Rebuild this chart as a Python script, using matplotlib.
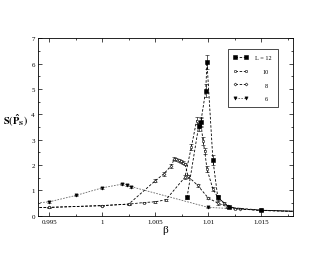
import matplotlib
matplotlib.use("Agg")
import matplotlib.pyplot as plt
from matplotlib.lines import Line2D
from matplotlib.ticker import MultipleLocator

plt.rcParams["font.family"] = ["Liberation Serif", "DejaVu Serif"]
plt.rcParams["mathtext.fontset"] = "stix"

# L = 12
beta_12 = [1.008, 1.0091, 1.0093, 1.00976, 1.00988, 1.01044, 1.0109, 1.012, 1.015, 1.02]
s_12 = [0.72, 3.55, 3.7, 4.93, 6.05, 2.2, 0.72, 0.33, 0.22, 0.15]
err_12 = [0.05, 0.2, 0.2, 0.25, 0.28, 0.2, 0.08, 0.03, 0.02, 0.02]

# L = 10
beta_10 = [0.9925, 0.995, 1.0, 1.0025, 1.0039, 1.005, 1.006, 1.0078, 1.0084, 1.0089,
           1.0091, 1.0093, 1.0095, 1.00966, 1.00988, 1.01044, 1.0109, 1.0115, 1.0125,
           1.015, 1.02]
s_10 = [0.32, 0.33, 0.4, 0.46, 0.52, 0.55, 0.63, 1.52, 2.7, 3.75,
        3.6, 3.7, 2.96, 2.57, 1.84, 1.05, 0.73, 0.5, 0.28,
        0.21, 0.15]
err_10 = [0.01, 0.01, 0.02, 0.02, 0.02, 0.03, 0.03, 0.08, 0.12, 0.15,
          0.15, 0.15, 0.15, 0.12, 0.12, 0.08, 0.05, 0.03, 0.02,
          0.01, 0.01]

# L = 8
beta_8 = [0.9925, 0.995, 1.0, 1.0025, 1.005, 1.0058, 1.0065, 1.0068, 1.007, 1.0072,
          1.0074, 1.0076, 1.0078, 1.0081, 1.009, 1.01, 1.0109, 1.0118, 1.013, 1.015, 1.02]
s_8 = [0.32, 0.33, 0.4, 0.46, 1.38, 1.65, 1.97, 2.24, 2.22, 2.18,
       2.14, 2.1, 2.05, 1.55, 1.2, 0.7, 0.5, 0.35, 0.27, 0.21, 0.15]
err_8 = [0.01, 0.01, 0.02, 0.02, 0.06, 0.07, 0.08, 0.06, 0.05, 0.05,
         0.05, 0.05, 0.05, 0.07, 0.06, 0.04, 0.08, 0.06, 0.02, 0.01, 0.01]

# L = 6
beta_6 = [0.9925, 0.995, 0.9975, 1.0, 1.0019, 1.0023, 1.0027, 1.01, 1.015, 1.02]
s_6 = [0.45, 0.55, 0.8, 1.1, 1.25, 1.22, 1.15, 0.33, 0.22, 0.15]
err_6 = [0.02, 0.03, 0.03, 0.03, 0.04, 0.04, 0.04, 0.02, 0.01, 0.01]

labels = ["L = 12", "10", "8", "6"]

styles = {
    "6": dict(color="#666666", ls=(0, (2, 1.5)), marker="v", ms=2.3, mfc="black", mec="black", mew=0.4),
    "8": dict(color="black", ls=(0, (3, 2)), marker="D", ms=1.5, mfc="white", mec="black", mew=0.4),
    "10": dict(color="black", ls=(0, (3, 2)), marker="o", ms=1.7, mfc="white", mec="black", mew=0.4),
    "L = 12": dict(color="black", ls=(0, (3, 2)), marker="s", ms=2.4, mfc="black", mec="black", mew=0.4),
}

fig = plt.figure(figsize=(3.3, 2.55), dpi=100)
ax = fig.add_axes([0.114, 0.150, 0.774, 0.696])

series = [(beta_6, s_6, err_6, "6"), (beta_8, s_8, err_8, "8"),
          (beta_10, s_10, err_10, "10"), (beta_12, s_12, err_12, "L = 12")]
for b, s, e, lab in series:
    ax.errorbar(b, s, yerr=e, lw=0.6, ecolor="black", elinewidth=0.45,
                capsize=1.3, capthick=0.45, **styles[lab])

ax.set_xlim(0.9939, 1.018)
ax.set_ylim(0, 7)
ax.set_xticks([0.995, 1.0, 1.005, 1.01, 1.015])
ax.set_xticklabels(["0.995", "1", "1.005", "1.01", "1.015"])
ax.xaxis.set_minor_locator(MultipleLocator(0.0025))
ax.yaxis.set_major_locator(MultipleLocator(1))
ax.yaxis.set_minor_locator(MultipleLocator(0.5))
ax.tick_params(which="both", direction="in", top=True, right=True,
               labelsize=5, width=0.5, pad=2)
ax.tick_params(which="major", length=3)
ax.tick_params(which="minor", length=1.5)
for sp in ax.spines.values():
    sp.set_linewidth(0.6)

ax.set_xlabel("β", fontsize=8, labelpad=1)
ax.set_ylabel(r"$\mathbf{S(\hat{P}_S)}$", fontsize=7.5, rotation=0)
ax.yaxis.set_label_coords(-0.085, 0.5)

# legend with plain line handles (no error bars)
handles = [Line2D([], [], lw=0.6, **styles[lab]) for lab in labels]
leg = ax.legend(handles, labels, loc="upper right",
                bbox_to_anchor=(0.94, 0.94), fontsize=4.5, numpoints=2,
                handlelength=2.3, handletextpad=1.2, fancybox=False,
                edgecolor="black", framealpha=1, labelspacing=1.35,
                borderpad=0.9, borderaxespad=0)
leg.get_frame().set_linewidth(0.5)

# right-align the legend labels
fig.canvas.draw()
renderer = fig.canvas.get_renderer()
texts = leg.get_texts()
widths = [t.get_window_extent(renderer).width * 72 / fig.dpi for t in texts]
wmax = max(widths)
for t, w in zip(texts, widths):
    t.set_ha("right")
    t.set_position((wmax - w, 0))

fig.savefig("out.png", dpi=100)
